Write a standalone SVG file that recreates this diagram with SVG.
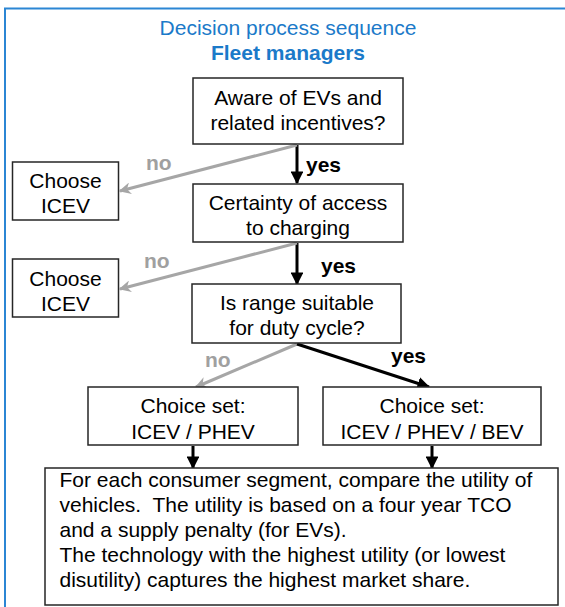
<svg xmlns="http://www.w3.org/2000/svg" width="565" height="607" viewBox="0 0 565 607">
<defs>
<marker id="ab" viewBox="0 0 10 10" refX="9" refY="5" markerWidth="4.3" markerHeight="4.3" orient="auto" markerUnits="strokeWidth"><path d="M0,0 L10,5 L0,10 z" fill="#000"/></marker>
<marker id="ag" viewBox="0 0 10 10" refX="9" refY="5" markerWidth="4" markerHeight="4" orient="auto" markerUnits="strokeWidth"><path d="M0,0 L10,5 L0,10 L3,5 z" fill="#a6a6a6"/></marker>
<style>
text{font-family:"Liberation Sans",Arial,sans-serif;font-size:21px;fill:#000}
.c{text-anchor:middle}
.box{fill:#fff;stroke:#262626;stroke-width:1.5}
.t{fill:#1b7ac9}
.b{font-weight:bold}
.g{fill:#a0a0a0}
.lk{stroke:#000;stroke-width:3;fill:none;marker-end:url(#ab)}
.lg{stroke:#a6a6a6;stroke-width:3;fill:none;marker-end:url(#ag)}
</style>
</defs>
<rect x="5" y="8.5" width="620" height="650" fill="#fff" stroke="#2b86d4" stroke-width="2"/>
<g id="title">
<text class="c t" x="288" y="35">Decision process sequence</text>
<text class="c t b" x="288" y="60">Fleet managers</text>
</g>
<g id="connectors">
<line class="lk" x1="297" y1="145" x2="297" y2="183"/>
<line class="lg" x1="297" y1="145" x2="120" y2="191"/>
<line class="lk" x1="297" y1="243" x2="297" y2="284"/>
<line class="lg" x1="297" y1="243" x2="120" y2="289"/>
<line class="lg" x1="297" y1="344" x2="196" y2="387"/>
<line class="lk" x1="297" y1="344" x2="429" y2="387"/>
<line class="lk" x1="193" y1="446" x2="193" y2="468"/>
<line class="lk" x1="432" y1="446" x2="432" y2="468"/>
<text class="b" x="306" y="172">yes</text>
<text class="b g" x="146" y="170">no</text>
<text class="b" x="321" y="273">yes</text>
<text class="b g" x="144" y="268">no</text>
<text class="b g" x="205" y="367">no</text>
<text class="b" x="391" y="363">yes</text>
</g>
<g id="aware">
<rect class="box" x="193" y="78" width="210" height="66"/>
<text class="c" x="298" y="105">Aware of EVs and</text>
<text class="c" x="298" y="130">related incentives?</text>
</g>
<g id="icev1">
<rect class="box" x="12.5" y="162" width="106" height="58"/>
<text class="c" x="65.5" y="188">Choose</text>
<text class="c" x="65.5" y="213">ICEV</text>
</g>
<g id="charging">
<rect class="box" x="193" y="184" width="210" height="58"/>
<text class="c" x="298" y="210">Certainty of access</text>
<text class="c" x="298" y="235">to charging</text>
</g>
<g id="icev2">
<rect class="box" x="12.5" y="259" width="106" height="58"/>
<text class="c" x="65.5" y="286">Choose</text>
<text class="c" x="65.5" y="311">ICEV</text>
</g>
<g id="range">
<rect class="box" x="192" y="284" width="209" height="59"/>
<text class="c" x="297" y="310">Is range suitable</text>
<text class="c" x="297" y="335">for duty cycle?</text>
</g>
<g id="set1">
<rect class="box" x="88" y="387" width="210" height="58"/>
<text class="c" x="193" y="413">Choice set:</text>
<text class="c" x="193" y="439">ICEV / PHEV</text>
</g>
<g id="set2">
<rect class="box" x="323" y="387" width="218" height="58"/>
<text class="c" x="432" y="413">Choice set:</text>
<text class="c" x="432" y="439">ICEV / PHEV / BEV</text>
</g>
<g id="utility">
<rect class="box" x="45" y="468" width="513" height="137"/>
<text x="59.5" y="487">For each consumer segment, compare the utility of</text>
<text x="59.5" y="512" xml:space="preserve">vehicles.  The utility is based on a four year TCO</text>
<text x="59.5" y="537">and a supply penalty (for EVs).</text>
<text x="59.5" y="562">The technology with the highest utility (or lowest</text>
<text x="59.5" y="587">disutility) captures the highest market share.</text>
</g>
</svg>
